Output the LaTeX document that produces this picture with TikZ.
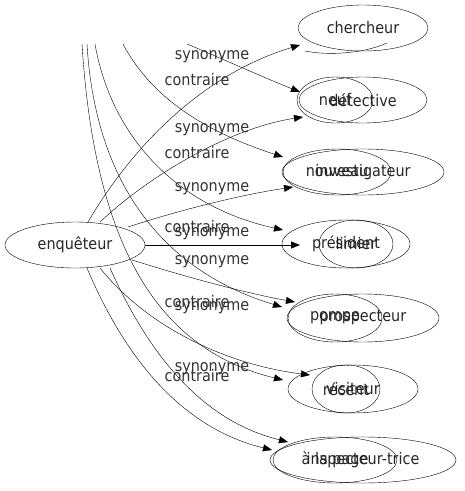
\documentclass[tikz,border=0pt]{standalone}
\usepackage{fontspec}
\setmainfont[FakeStretch=0.9]{DejaVu Sans}
\usetikzlibrary{arrows.meta}
\begin{document}
\begin{tikzpicture}[x=1pt,y=-1pt,
  lbl/.style={font=\fontsize{16}{16}\selectfont,text=black!80,inner sep=0pt},
  txt/.style={font=\fontsize{16}{16}\selectfont,text=black!85,inner sep=0pt},
  edge/.style={draw,-{Triangle[length=9pt,width=7pt]},thin}]
\useasboundingbox (0,0) rectangle (465,491);
% ellipses
\draw (75,245) ellipse [x radius=70, y radius=23];
\node[txt] (enq) at (75,245) {enquêteur};
\draw (363,28) ellipse [x radius=65, y radius=23];
\node[txt] (cher) at (363,28) {chercheur};
\draw (305,51) .. controls (330,56) and (365,53) .. (387,43);
\draw (335,100) ellipse [x radius=38, y radius=23];
\draw (363,100) ellipse [x radius=64, y radius=23];
\node[txt] (neuf) at (335,100) {neuf};
\node[txt] (det) at (363,100) {détective};
\draw (337,172) ellipse [x radius=54, y radius=23];
\draw (363,172) ellipse [x radius=81, y radius=23];
\node[txt] (nouv) at (337,172) {nouveau};
\node[txt] (inv) at (363,172) {investigateur};
\draw (346,244) ellipse [x radius=64, y radius=24];
\draw (356,244) ellipse [x radius=37, y radius=24];
\node[txt] (pres) at (346,244) {président};
\node[txt] (lim) at (356,244) {limier};
\draw (335,318) ellipse [x radius=47, y radius=24];
\draw (363,318) ellipse [x radius=76, y radius=24];
\node[txt] (pomp) at (335,318) {pompe};
\node[txt] (pros) at (363,318) {prospecteur};
\draw (346,389) ellipse [x radius=34, y radius=24];
\draw (353,389) ellipse [x radius=65, y radius=24];
\node[txt] (rec) at (346,389) {récent};
\node[txt] (vis) at (353,389) {visiteur};
\draw (335,460) ellipse [x radius=62, y radius=23];
\draw (363,460) ellipse [x radius=93, y radius=23];
\node[txt] (alp) at (335,460) {à la page};
\node[txt] (insp) at (363,460) {inspecteur-trice};
% edges
\draw[edge] (88,222) .. controls (130,150) and (200,75) .. (300,45);
\draw[edge] (187,44) .. controls (225,60) and (265,78) .. (300,92);
\draw[edge] (100,222) .. controls (150,175) and (230,128) .. (303,117);
\draw[edge] (123,44) .. controls (150,95) and (200,130) .. (283,157);
\draw[edge] (128,227) .. controls (180,210) and (240,195) .. (293,187);
\draw[edge] (95,44) .. controls (110,130) and (170,205) .. (283,230);
\draw[edge] (145,245) -- (300,245);
\draw[edge] (132,260) .. controls (180,275) and (240,292) .. (295,302);
\draw[edge] (87,44) .. controls (95,180) and (160,270) .. (282,307);
\draw[edge] (100,268) .. controls (150,330) and (230,365) .. (310,375);
\draw[edge] (82,44) .. controls (95,250) and (160,350) .. (283,380);
\draw[edge] (87,268) .. controls (130,370) and (190,430) .. (272,450);
\draw[edge] (110,268) .. controls (160,380) and (220,425) .. (288,442);
% labels
\node[lbl] (s1) at (212,57) {synonyme};
\node[lbl] (c1) at (197,80) {contraire};
\node[lbl] (s2) at (212,130) {synonyme};
\node[lbl] (c2) at (197,153) {contraire};
\node[lbl] (s3) at (212,189) {synonyme};
\node[lbl] (c3) at (197,227) {contraire};
\node[lbl] (s4) at (212,234) {synonyme};
\node[lbl] (s5) at (212,262) {synonyme};
\node[lbl] (c4) at (197,302) {contraire};
\node[lbl] (s6) at (212,308) {synonyme};
\node[lbl] (s7) at (212,369) {synonyme};
\node[lbl] (c5) at (197,376) {contraire};
\end{tikzpicture}
\end{document}
